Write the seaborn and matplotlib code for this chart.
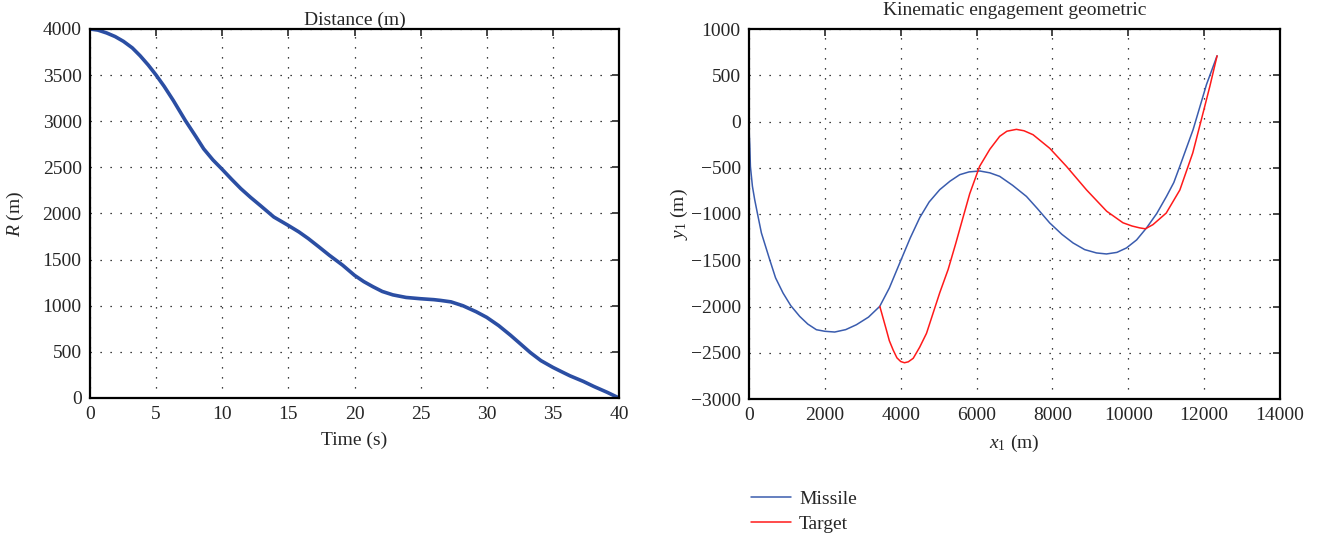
import numpy as np
import pandas as pd
import matplotlib
matplotlib.use("Agg")
import matplotlib.pyplot as plt
import seaborn as sns

# Distance vs time (left panel)
time_s = [0, 0.6, 1.26, 1.9, 2.53, 3.2, 3.79, 4.4, 5, 5.6, 6.3, 7.2, 8, 8.6, 9.3, 10,
          10.7, 11.4, 12.14, 12.9, 13.9, 15, 15.8, 16.5, 17.3, 18.1, 19.1, 20, 20.7,
          21.4, 22.1, 22.9, 23.9, 25, 26, 26.5, 27.3, 28.2, 29.2, 30, 30.9, 31.8, 32.6,
          33.3, 34.1, 35, 35.7, 36.3, 37.3, 38.1, 39.1, 40]
range_m = [4000, 3988, 3957, 3918, 3866, 3795, 3710, 3610, 3500, 3380, 3225, 3010, 2835,
           2700, 2580, 2478, 2372, 2270, 2175, 2084, 1962, 1870, 1800, 1729, 1639, 1547,
           1440, 1330, 1262, 1206, 1155, 1118, 1090, 1076, 1066, 1058, 1042, 1000, 935, 874,
           785, 680, 580, 492, 405, 332, 282, 240, 180, 125, 62, 0]

# Engagement geometry (right panel)
missile_x = [0, 5, 10, 20, 37, 90, 150, 240, 327, 546, 700, 897, 1100, 1337, 1550, 1777,
             2000, 2260, 2550, 2832, 3150, 3446, 3700, 3974, 4250, 4501, 4750, 5029, 5300,
             5556, 5800, 6083, 6350, 6610, 6950, 7315, 7600, 7929, 8250, 8544, 8850, 9161,
             9425, 9700, 9952, 10220, 10480, 10750, 11007, 11200, 11358, 11708, 12062, 12341]
missile_y = [0, -100, -170, -250, -485, -700, -845, -1030, -1205, -1494, -1690, -1854,
             -1990, -2107, -2190, -2251, -2268, -2276, -2250, -2197, -2115, -1999, -1800,
             -1530, -1260, -1040, -870, -737, -645, -575, -545, -535, -555, -593, -690,
             -810, -940, -1097, -1220, -1313, -1385, -1421, -1432, -1415, -1367, -1280,
             -1151, -995, -810, -660, -485, -89, 400, 710]
target_x = [3450, 3620, 3700, 3800, 3900, 4000, 4100, 4200, 4330, 4500, 4680, 5030, 5250,
            5450, 5600, 5820, 6080, 6350, 6610, 6800, 7050, 7250, 7490, 7930, 8370, 8900,
            9430, 9860, 10100, 10300, 10450, 10650, 11000, 11360, 11700, 11970, 12150, 12341]
target_y = [-2000, -2250, -2370, -2470, -2555, -2595, -2608, -2598, -2560, -2440, -2290,
            -1850, -1600, -1320, -1100, -780, -485, -300, -160, -105, -85, -100, -143, -290,
            -485, -740, -970, -1095, -1130, -1150, -1160, -1115, -990, -740, -340, 90, 380, 710]

sns.set_style("white")
plt.rcParams['font.family'] = ['Liberation Serif', 'DejaVu Serif']
plt.rcParams['mathtext.fontset'] = 'custom'
plt.rcParams['mathtext.rm'] = 'Liberation Serif'
plt.rcParams['mathtext.it'] = 'Liberation Serif:italic'
plt.rcParams['font.size'] = 14

fig = plt.figure(figsize=(13.19, 5.38), dpi=100)
ax1 = fig.add_axes([90 / 1319, 140 / 538, 529 / 1319, 369 / 538])
ax2 = fig.add_axes([749 / 1319, 139 / 538, 531 / 1319, 370 / 538])

df_r = pd.DataFrame({'t': time_s, 'R': range_m})
sns.lineplot(data=df_r, x='t', y='R', ax=ax1, color='#2b4ea3', linewidth=2.6,
             sort=False, estimator=None)

df_m = pd.DataFrame({'x': missile_x, 'y': missile_y})
df_t = pd.DataFrame({'x': target_x, 'y': target_y})
sns.lineplot(data=df_m, x='x', y='y', ax=ax2, color='#3a5cae', linewidth=1.1,
             sort=False, estimator=None, label='Missile')
sns.lineplot(data=df_t, x='x', y='y', ax=ax2, color='#ff1a1a', linewidth=1.1,
             sort=False, estimator=None, label='Target')

ax1.set_xlim(0, 40)
ax1.set_ylim(0, 4000)
ax1.set_xticks(np.arange(0, 41, 5))
ax1.set_yticks(np.arange(0, 4001, 500))
ax1.set_title('Distance (m)', fontsize=14, pad=3)
ax1.set_xlabel('Time (s)', fontsize=14, labelpad=6)
ax1.set_ylabel('$R$ (m)', fontsize=14)
ax1.yaxis.set_label_coords(-0.121, 0.5)

ax2.set_xlim(0, 14000)
ax2.set_ylim(-3000, 1000)
ax2.set_xticks(np.arange(0, 14001, 2000))
ax2.set_yticks(np.arange(-3000, 1001, 500))
ax2.set_yticklabels([f'{v}'.replace('-', '\u2212') for v in range(-3000, 1001, 500)])
ax2.set_title('Kinematic engagement geometric', fontsize=14, pad=10)
ax2.set_xlabel('$x_1$ (m)', fontsize=14, labelpad=6)
ax2.set_ylabel('$y_1$ (m)', fontsize=14)
ax2.yaxis.set_label_coords(-0.112, 0.5)

for ax in (ax1, ax2):
    ax.grid(True, color='black', linestyle=(0, (1, 7)), linewidth=0.9)
    ax.tick_params(direction='in', top=True, right=True, length=5, width=1.2,
                   labelsize=14, pad=6)
    for s in ax.spines.values():
        s.set_visible(True)
        s.set_linewidth(1.6)
        s.set_color('black')

ax2.legend(loc='upper left', bbox_to_anchor=(-0.03, -0.2), frameon=False,
           fontsize=14, handlelength=2.1, labelspacing=0.35, handletextpad=0.4)

fig.savefig('out.png', dpi=100)
